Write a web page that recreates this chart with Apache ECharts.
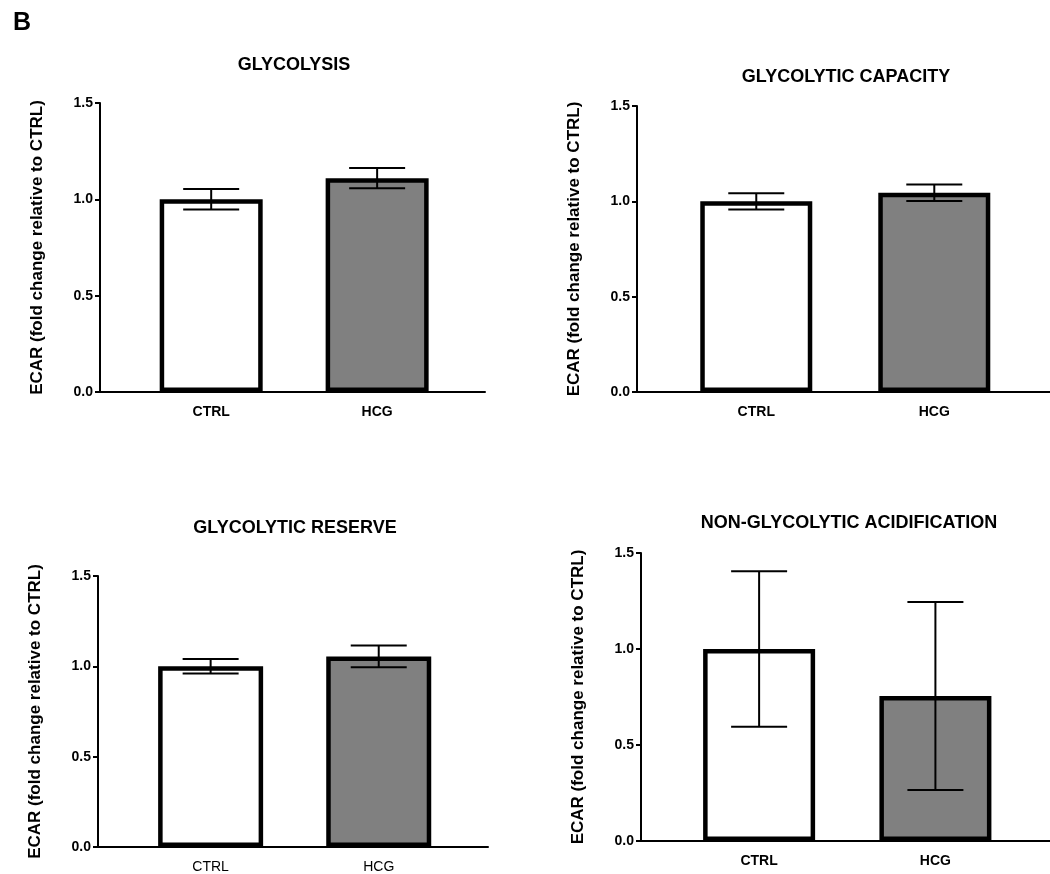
<!DOCTYPE html>
<html>
<head>
<meta charset="utf-8">
<script src="https://cdn.jsdelivr.net/npm/echarts@6/dist/echarts.min.js"></script>
<style>
html,body{margin:0;padding:0;background:#fff;}
#main{width:1050px;height:874px;}
</style>
</head>
<body>
<div id="main"></div>
<script>
// ---- data ----
const categories = ['CTRL', 'HCG'];
const panelTitles = ['GLYCOLYSIS', 'GLYCOLYTIC CAPACITY', 'GLYCOLYTIC RESERVE', 'NON-GLYCOLYTIC ACIDIFICATION'];
const yAxisName = 'ECAR (fold change relative to CTRL)';
const yTicks = [0, 0.5, 1.0, 1.5];

const glycolysisMean = [1.0, 1.11];
const glycolysisErr = [0.053, 0.052];
const capacityMean = [1.0, 1.045];
const capacityErr = [0.043, 0.043];
const reserveMean = [1.0, 1.055];
const reserveErr = [0.04, 0.06];
const nonGlycoMean = [1.0, 0.755];
const nonGlycoErr = [0.405, 0.49];

const barColors = ['#ffffff', '#808080'];

// ---- layout ----
const panels = [
  {mean: glycolysisMean, err: glycolysisErr, grid: {left: 100, top: 103, width: 385, height: 289}, barW: 103, title: {x: 289, y: 51}, boldCat: true},
  {mean: capacityMean, err: capacityErr, grid: {left: 637, top: 106, width: 415, height: 286}, barW: 112, title: {x: 841, y: 63}, boldCat: true},
  {mean: reserveMean, err: reserveErr, grid: {left: 98, top: 576, width: 390, height: 271}, barW: 105, title: {x: 290, y: 514}, boldCat: false},
  {mean: nonGlycoMean, err: nonGlycoErr, grid: {left: 641, top: 553, width: 413, height: 288}, barW: 112, title: {x: 844, y: 509}, boldCat: true}
];

const FONT = '"Liberation Sans", Arial, sans-serif';

const option = {
  backgroundColor: '#ffffff',
  animation: false,
  title: [{
    text: 'B', left: 8, top: 6,
    textStyle: {fontFamily: FONT, fontWeight: 'bold', fontSize: 25, color: '#000'}
  }],
  grid: [], xAxis: [], yAxis: [], series: []
};

panels.forEach((p, i) => {
  option.title.push({
    text: panelTitles[i], left: p.title.x, top: p.title.y, textAlign: 'center',
    textStyle: {fontFamily: FONT, fontWeight: 'bold', fontSize: 18, color: '#000'}
  });
  option.grid.push(Object.assign({containLabel: false}, p.grid));
  option.xAxis.push({
    gridIndex: i, type: 'value', min: 0.33, max: 2.65,
    axisLine: {show: true, onZero: false, lineStyle: {color: '#000', width: 2}},
    axisTick: {show: false},
    splitLine: {show: false},
    axisLabel: {
      customValues: [1, 2],
      formatter: v => categories[Math.round(v) - 1],
      margin: 13,
      fontFamily: FONT, fontWeight: p.boldCat ? 'bold' : 'normal', fontSize: 14, color: '#000'
    }
  });
  option.yAxis.push({
    gridIndex: i, type: 'value', min: yTicks[0], max: yTicks[yTicks.length - 1], interval: 0.5,
    name: yAxisName, nameLocation: 'middle', nameGap: 54,
    nameTextStyle: {fontFamily: FONT, fontWeight: 'bold', fontSize: 17, color: '#000'},
    axisLine: {show: true, onZero: false, lineStyle: {color: '#000', width: 2}},
    axisTick: {show: true, length: 5, lineStyle: {color: '#000', width: 2}},
    splitLine: {show: false},
    axisLabel: {
      formatter: v => v.toFixed(1), margin: 7,
      fontFamily: FONT, fontWeight: 'bold', fontSize: 14, color: '#000'
    }
  });
  option.series.push({
    type: 'bar', xAxisIndex: i, yAxisIndex: i, barWidth: p.barW, z: 2,
    data: p.mean.map((m, k) => ({
      value: [k + 1, m],
      itemStyle: {color: barColors[k], borderColor: '#000', borderWidth: 4.5}
    }))
  });
  option.series.push({
    type: 'custom', xAxisIndex: i, yAxisIndex: i, z: 5,
    data: p.mean.map((m, k) => [k + 1, m, p.err[k]]),
    renderItem: (params, api) => {
      const x = api.value(0), m = api.value(1), e = api.value(2);
      const top = api.coord([x, m + e]);
      const bot = api.coord([x, m - e]);
      const hw = 28;
      const style = {stroke: '#000', lineWidth: 2};
      return {
        type: 'group',
        children: [
          {type: 'line', shape: {x1: top[0], y1: top[1], x2: bot[0], y2: bot[1]}, style},
          {type: 'line', shape: {x1: top[0] - hw, y1: top[1], x2: top[0] + hw, y2: top[1]}, style},
          {type: 'line', shape: {x1: bot[0] - hw, y1: bot[1], x2: bot[0] + hw, y2: bot[1]}, style}
        ]
      };
    }
  });
});

const chart = echarts.init(document.getElementById('main'), null, {renderer: 'canvas'});
chart.setOption(option);
</script>
</body>
</html>
